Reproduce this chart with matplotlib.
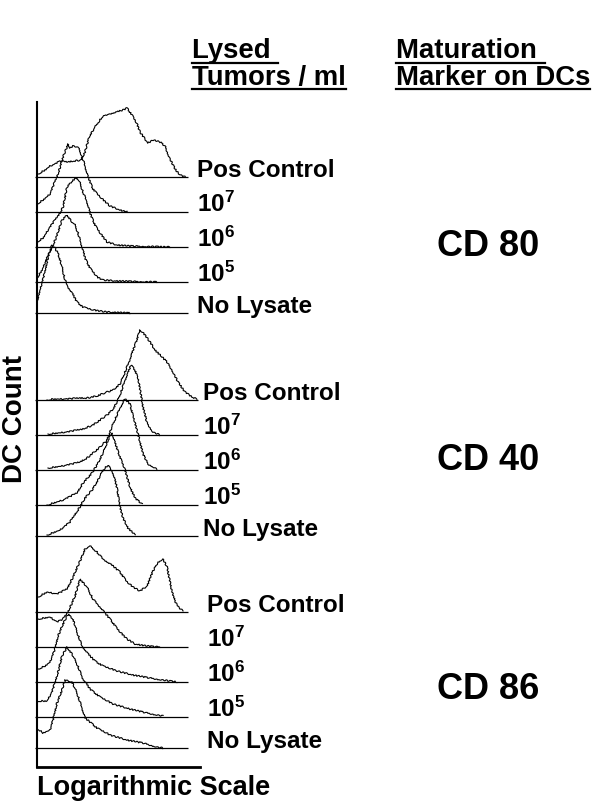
import matplotlib
matplotlib.use("Agg")
import matplotlib.pyplot as plt
from matplotlib.lines import Line2D

plt.rcParams['font.family'] = ['Liberation Sans', 'DejaVu Sans']
plt.rcParams['font.weight'] = 'bold'
plt.rcParams['mathtext.fontset'] = 'custom'
plt.rcParams['mathtext.rm'] = 'Liberation Sans:bold'
plt.rcParams['mathtext.bf'] = 'Liberation Sans:bold'
plt.rcParams['mathtext.default'] = 'bf'

W, H = 600, 807

# Row labels (top to bottom within each marker block)
ROW_LABELS = ["Pos Control", r"$10^{7}$", r"$10^{6}$", r"$10^{5}$", "No Lysate"]
MARKERS = ["CD 80", "CD 40", "CD 86"]

# Histograms: x = log channel (0-163), y = DC count (peak ~70)
# CD 80
CD80_POS_X = [1, 8, 13, 18, 23, 30, 37, 44, 48, 52, 58, 65, 72, 80, 86, 90, 95, 100, 103, 108, 111, 116, 123, 128, 133, 138, 143, 148]
CD80_POS_Y = [3, 7, 11, 13, 16, 15, 16, 17, 25, 40, 50, 60, 63, 65, 67, 69, 62, 53, 45, 38, 34, 37, 35, 31, 18, 8, 2, 0]
CD80_E7_X = [0, 6, 13, 17, 21, 26, 31, 33, 36, 41, 45, 48, 51, 56, 63, 73, 83, 90]
CD80_E7_Y = [8, 12, 18, 28, 38, 55, 68, 64, 66, 65, 56, 46, 35, 23, 15, 6, 2, 0]
CD80_E6_X = [0, 6, 13, 18, 23, 26, 30, 36, 40, 43, 46, 50, 53, 58, 63, 70, 80, 93, 133]
CD80_E6_Y = [5, 9, 20, 27, 34, 40, 60, 67, 69, 64, 55, 45, 34, 22, 14, 5, 2, 1, 0]
CD80_E5_X = [0, 5, 10, 15, 20, 25, 30, 35, 38, 41, 45, 48, 53, 60, 66, 80, 120]
CD80_E5_Y = [4, 12, 24, 34, 47, 62, 67, 60, 57, 49, 35, 24, 14, 5, 2, 1, 0]
CD80_NO_X = [0, 3, 8, 11, 15, 18, 21, 25, 28, 31, 35, 40, 46, 56, 70, 93]
CD80_NO_Y = [12, 23, 41, 56, 68, 65, 60, 46, 33, 26, 20, 11, 6, 3, 1, 0]

# CD 40
CD40_POS_X = [10, 16, 30, 43, 50, 60, 70, 76, 83, 88, 93, 98, 103, 108, 113, 118, 125, 130, 135, 141, 148, 155, 160]
CD40_POS_Y = [0, 1, 1, 2, 2, 4, 8, 10, 16, 28, 41, 55, 70, 65, 58, 50, 43, 38, 30, 18, 8, 3, 1]
CD40_E7_X = [11, 30, 46, 56, 63, 70, 76, 80, 84, 88, 91, 94, 98, 101, 103, 106, 110, 116, 123]
CD40_E7_Y = [1, 3, 6, 10, 15, 20, 26, 33, 43, 55, 62, 70, 65, 56, 46, 28, 12, 3, 0]
CD40_E6_X = [11, 25, 35, 43, 50, 56, 62, 66, 70, 76, 83, 88, 93, 96, 101, 106, 111, 120]
CD40_E6_Y = [2, 4, 6, 8, 12, 17, 22, 26, 30, 46, 62, 71, 66, 54, 36, 16, 6, 1]
CD40_E5_X = [10, 26, 40, 46, 55, 61, 66, 71, 75, 78, 83, 88, 93, 98, 105]
CD40_E5_Y = [0, 5, 12, 22, 32, 42, 52, 65, 72, 62, 48, 35, 18, 7, 1]
CD40_NO_X = [10, 23, 33, 41, 48, 55, 61, 66, 71, 76, 80, 83, 86, 91, 98]
CD40_NO_Y = [1, 6, 14, 26, 38, 46, 56, 66, 71, 63, 48, 29, 18, 8, 1]

# CD 86
CD86_POS_X = [1, 10, 20, 30, 36, 43, 48, 53, 60, 66, 76, 83, 90, 96, 103, 110, 116, 121, 126, 130, 135, 140, 146]
CD86_POS_Y = [15, 20, 18, 23, 35, 51, 63, 66, 60, 53, 46, 40, 30, 25, 21, 26, 41, 50, 53, 45, 20, 6, 1]
CD86_E7_X = [1, 13, 20, 26, 31, 38, 43, 50, 56, 63, 73, 82, 90, 98, 110, 123]
CD86_E7_Y = [28, 30, 25, 28, 35, 51, 68, 60, 48, 40, 28, 16, 8, 3, 1, 0]
CD86_E6_X = [1, 8, 13, 18, 21, 26, 31, 36, 40, 45, 52, 58, 66, 80, 96, 113, 126, 140]
CD86_E6_Y = [13, 16, 20, 33, 46, 58, 68, 63, 50, 36, 27, 21, 16, 11, 7, 4, 2, 0]
CD86_E5_X = [0, 10, 15, 20, 25, 30, 35, 40, 46, 53, 63, 76, 93, 110, 126]
CD86_E5_Y = [16, 16, 25, 41, 61, 70, 63, 53, 38, 28, 20, 13, 8, 4, 1]
CD86_NO_X = [0, 6, 13, 16, 20, 25, 28, 35, 40, 45, 48, 53, 60, 73, 90, 106, 120, 126]
CD86_NO_Y = [20, 15, 18, 28, 45, 58, 68, 66, 55, 40, 30, 26, 20, 13, 8, 5, 1, 0]

GROUPS = [
    [(CD80_POS_X, CD80_POS_Y), (CD80_E7_X, CD80_E7_Y), (CD80_E6_X, CD80_E6_Y),
     (CD80_E5_X, CD80_E5_Y), (CD80_NO_X, CD80_NO_Y)],
    [(CD40_POS_X, CD40_POS_Y), (CD40_E7_X, CD40_E7_Y), (CD40_E6_X, CD40_E6_Y),
     (CD40_E5_X, CD40_E5_Y), (CD40_NO_X, CD40_NO_Y)],
    [(CD86_POS_X, CD86_POS_Y), (CD86_E7_X, CD86_E7_Y), (CD86_E6_X, CD86_E6_Y),
     (CD86_E5_X, CD86_E5_Y), (CD86_NO_X, CD86_NO_Y)],
]

# layout (stacked offsets, in axis units)
group_base = [454, 231, 19]
row_offset = [136, 101, 66, 31, 0]
line_end = [151, 161, 151]
label_x = [160, 166, 170]
marker_baseline = [256, 470, 699]   # px from top

fig = plt.figure(figsize=(W / 100, H / 100), dpi=100)
fig.patch.set_facecolor('white')

ax = fig.add_axes([37 / W, 1 - 767 / H, 163 / W, 665 / H])
ax.set_xlim(0, 163)
ax.set_ylim(0, 665)
ax.set_xticks([])
ax.set_yticks([])
for s in ['top', 'right']:
    ax.spines[s].set_visible(False)
ax.spines['left'].set_linewidth(1.5)
ax.spines['bottom'].set_linewidth(2.0)

for g, curves in enumerate(GROUPS):
    for r, (xs, ys) in enumerate(curves):
        base = group_base[g] + row_offset[r]
        ax.plot([-2, line_end[g]], [base, base], color='black', lw=0.9,
                clip_on=False, solid_capstyle='butt')
        ln, = ax.plot(xs, [base + v for v in ys], color='black', lw=0.8)
        ln.set_sketch_params(scale=0.7, length=2.5, randomness=3)
        ax.text(label_x[g], base, ROW_LABELS[r], fontsize=17.5, fontweight='bold',
                va='baseline', ha='left', clip_on=False)
    fig.text(437 / W, 1 - marker_baseline[g] / H, MARKERS[g], fontsize=26,
             fontweight='bold', va='baseline', ha='left')

fig.text(15 / W, 1 - 419 / H, "DC Count", rotation=90, fontsize=20,
         fontweight='bold', va='center', ha='center')
fig.text(37 / W, 1 - 795 / H, "Logarithmic Scale", fontsize=19.5,
         fontweight='bold', va='baseline', ha='left')

# underlined column headers
headers = [("Lysed ", 192, 58, 63), ("Tumors / ml", 192, 85, 89),
           ("Maturation ", 396, 58, 63), ("Marker on DCs", 396, 85, 89)]
htexts = []
for txt, x, yb, yu in headers:
    t = fig.text(x / W, 1 - yb / H, txt, fontsize=19.8, fontweight='bold',
                 va='baseline', ha='left')
    htexts.append((t, yu))

fig.canvas.draw()
renderer = fig.canvas.get_renderer()
for t, yu in htexts:
    bb = t.get_window_extent(renderer)
    fig.add_artist(Line2D([bb.x0 / W, bb.x1 / W], [1 - yu / H, 1 - yu / H],
                          transform=fig.transFigure, color='black', lw=1.6))

fig.savefig("out.png", dpi=100)
